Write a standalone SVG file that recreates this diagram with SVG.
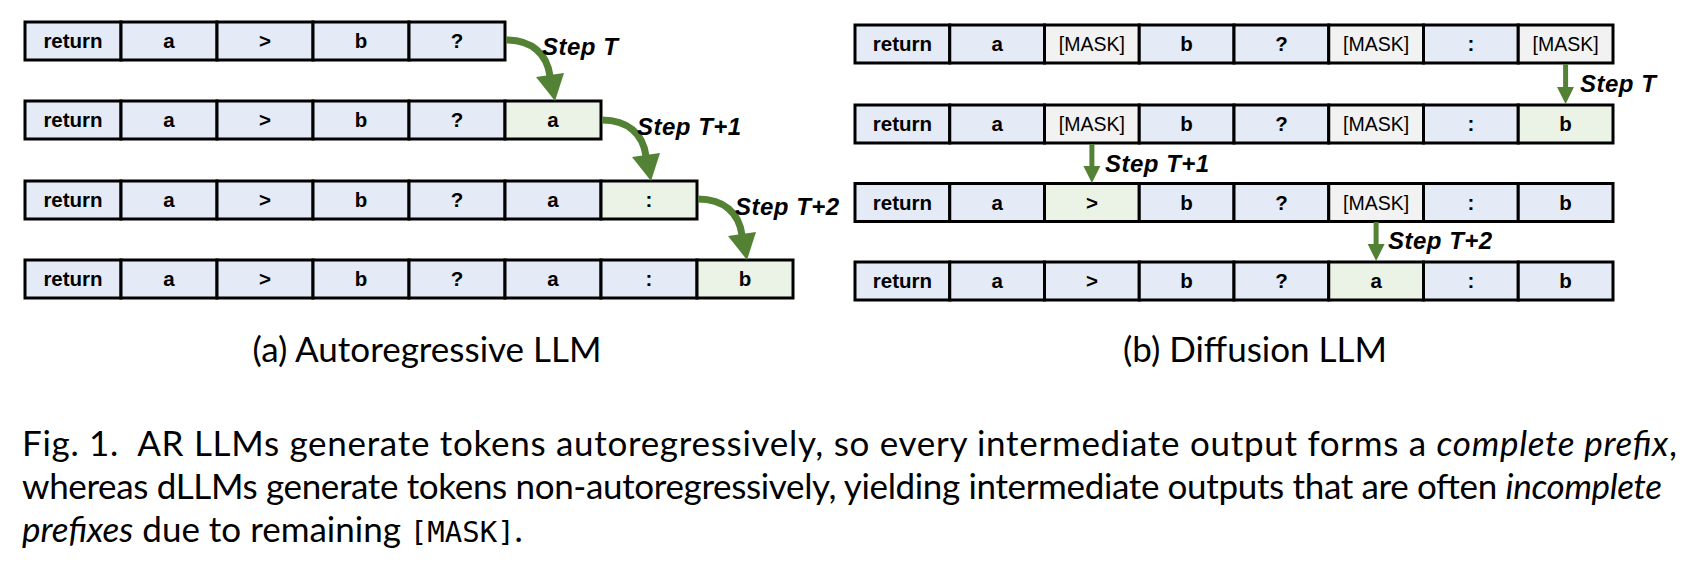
<svg xmlns="http://www.w3.org/2000/svg" width="1686" height="575" viewBox="0 0 1686 575">
<style>
  .c rect { stroke:#000; stroke-width:3; }
  .bl { fill:#E4EBF6; }
  .gr { fill:#EBF3E6; }
  .mk { fill:#F2F2F2; }
  .t { font-family:"Liberation Sans", Arial, sans-serif; font-size:20.5px; font-weight:bold; text-anchor:middle; fill:#000; }
  .m { font-weight:normal; font-size:19.5px; }
  .lab { font-family:"Liberation Sans", Arial, sans-serif; font-size:24px; letter-spacing:0.5px; font-weight:bold; font-style:italic; fill:#000; }
  .arc { fill:none; stroke:#548235; stroke-width:7; }
  .sh { fill:none; stroke:#548235; stroke-width:5; }
  .hd { fill:#548235; }
  .cap { font-family:Lato, "Open Sans", sans-serif; font-size:35px; fill:#000; }
  .body { font-family:Lato, "Open Sans", sans-serif; font-size:35px; fill:#000; white-space:pre; }
  .it { font-style:italic; }
  .mono { font-family:"DejaVu Sans Mono", "Liberation Mono", monospace; font-size:29px; }
</style>

<!-- Left panel: Autoregressive -->
<g id="ar-row1" class="c">
  <g id="ar1-1"><rect class="bl" x="25" y="22" width="96" height="38"/><text class="t" x="73" y="48">return</text></g>
  <g id="ar1-2"><rect class="bl" x="121" y="22" width="96" height="38"/><text class="t" x="169" y="48">a</text></g>
  <g id="ar1-3"><rect class="bl" x="217" y="22" width="96" height="38"/><text class="t" x="265" y="48">&gt;</text></g>
  <g id="ar1-4"><rect class="bl" x="313" y="22" width="96" height="38"/><text class="t" x="361" y="48">b</text></g>
  <g id="ar1-5"><rect class="bl" x="409" y="22" width="96" height="38"/><text class="t" x="457" y="48">?</text></g>
</g>
<g id="ar-row2" class="c">
  <g id="ar2-1"><rect class="bl" x="25" y="101" width="96" height="38"/><text class="t" x="73" y="127">return</text></g>
  <g id="ar2-2"><rect class="bl" x="121" y="101" width="96" height="38"/><text class="t" x="169" y="127">a</text></g>
  <g id="ar2-3"><rect class="bl" x="217" y="101" width="96" height="38"/><text class="t" x="265" y="127">&gt;</text></g>
  <g id="ar2-4"><rect class="bl" x="313" y="101" width="96" height="38"/><text class="t" x="361" y="127">b</text></g>
  <g id="ar2-5"><rect class="bl" x="409" y="101" width="96" height="38"/><text class="t" x="457" y="127">?</text></g>
  <g id="ar2-6"><rect class="gr" x="505" y="101" width="96" height="38"/><text class="t" x="553" y="127">a</text></g>
</g>
<g id="ar-row3" class="c">
  <g id="ar3-1"><rect class="bl" x="25" y="181" width="96" height="38"/><text class="t" x="73" y="207">return</text></g>
  <g id="ar3-2"><rect class="bl" x="121" y="181" width="96" height="38"/><text class="t" x="169" y="207">a</text></g>
  <g id="ar3-3"><rect class="bl" x="217" y="181" width="96" height="38"/><text class="t" x="265" y="207">&gt;</text></g>
  <g id="ar3-4"><rect class="bl" x="313" y="181" width="96" height="38"/><text class="t" x="361" y="207">b</text></g>
  <g id="ar3-5"><rect class="bl" x="409" y="181" width="96" height="38"/><text class="t" x="457" y="207">?</text></g>
  <g id="ar3-6"><rect class="bl" x="505" y="181" width="96" height="38"/><text class="t" x="553" y="207">a</text></g>
  <g id="ar3-7"><rect class="gr" x="601" y="181" width="96" height="38"/><text class="t" x="649" y="207">:</text></g>
</g>
<g id="ar-row4" class="c">
  <g id="ar4-1"><rect class="bl" x="25" y="260" width="96" height="38"/><text class="t" x="73" y="286">return</text></g>
  <g id="ar4-2"><rect class="bl" x="121" y="260" width="96" height="38"/><text class="t" x="169" y="286">a</text></g>
  <g id="ar4-3"><rect class="bl" x="217" y="260" width="96" height="38"/><text class="t" x="265" y="286">&gt;</text></g>
  <g id="ar4-4"><rect class="bl" x="313" y="260" width="96" height="38"/><text class="t" x="361" y="286">b</text></g>
  <g id="ar4-5"><rect class="bl" x="409" y="260" width="96" height="38"/><text class="t" x="457" y="286">?</text></g>
  <g id="ar4-6"><rect class="bl" x="505" y="260" width="96" height="38"/><text class="t" x="553" y="286">a</text></g>
  <g id="ar4-7"><rect class="bl" x="601" y="260" width="96" height="38"/><text class="t" x="649" y="286">:</text></g>
  <g id="ar4-8"><rect class="gr" x="697" y="260" width="96" height="38"/><text class="t" x="745" y="286">b</text></g>
</g>

<!-- Right panel: Diffusion -->
<g id="df-row1" class="c">
  <g id="df1-1"><rect class="bl" x="855" y="25" width="94.75" height="38"/><text class="t" x="902.4" y="51">return</text></g>
  <g id="df1-2"><rect class="bl" x="949.75" y="25" width="94.75" height="38"/><text class="t" x="997.1" y="51">a</text></g>
  <g id="df1-3"><rect class="mk" x="1044.5" y="25" width="94.75" height="38"/><text class="t m" x="1091.9" y="51">[MASK]</text></g>
  <g id="df1-4"><rect class="bl" x="1139.25" y="25" width="94.75" height="38"/><text class="t" x="1186.6" y="51">b</text></g>
  <g id="df1-5"><rect class="bl" x="1234" y="25" width="94.75" height="38"/><text class="t" x="1281.4" y="51">?</text></g>
  <g id="df1-6"><rect class="mk" x="1328.75" y="25" width="94.75" height="38"/><text class="t m" x="1376.1" y="51">[MASK]</text></g>
  <g id="df1-7"><rect class="bl" x="1423.5" y="25" width="94.75" height="38"/><text class="t" x="1470.9" y="51">:</text></g>
  <g id="df1-8"><rect class="mk" x="1518.25" y="25" width="94.75" height="38"/><text class="t m" x="1565.6" y="51">[MASK]</text></g>
</g>
<g id="df-row2" class="c">
  <g id="df2-1"><rect class="bl" x="855" y="105" width="94.75" height="38"/><text class="t" x="902.4" y="131">return</text></g>
  <g id="df2-2"><rect class="bl" x="949.75" y="105" width="94.75" height="38"/><text class="t" x="997.1" y="131">a</text></g>
  <g id="df2-3"><rect class="mk" x="1044.5" y="105" width="94.75" height="38"/><text class="t m" x="1091.9" y="131">[MASK]</text></g>
  <g id="df2-4"><rect class="bl" x="1139.25" y="105" width="94.75" height="38"/><text class="t" x="1186.6" y="131">b</text></g>
  <g id="df2-5"><rect class="bl" x="1234" y="105" width="94.75" height="38"/><text class="t" x="1281.4" y="131">?</text></g>
  <g id="df2-6"><rect class="mk" x="1328.75" y="105" width="94.75" height="38"/><text class="t m" x="1376.1" y="131">[MASK]</text></g>
  <g id="df2-7"><rect class="bl" x="1423.5" y="105" width="94.75" height="38"/><text class="t" x="1470.9" y="131">:</text></g>
  <g id="df2-8"><rect class="gr" x="1518.25" y="105" width="94.75" height="38"/><text class="t" x="1565.6" y="131">b</text></g>
</g>
<g id="df-row3" class="c">
  <g id="df3-1"><rect class="bl" x="855" y="183.5" width="94.75" height="38"/><text class="t" x="902.4" y="209.5">return</text></g>
  <g id="df3-2"><rect class="bl" x="949.75" y="183.5" width="94.75" height="38"/><text class="t" x="997.1" y="209.5">a</text></g>
  <g id="df3-3"><rect class="gr" x="1044.5" y="183.5" width="94.75" height="38"/><text class="t" x="1091.9" y="209.5">&gt;</text></g>
  <g id="df3-4"><rect class="bl" x="1139.25" y="183.5" width="94.75" height="38"/><text class="t" x="1186.6" y="209.5">b</text></g>
  <g id="df3-5"><rect class="bl" x="1234" y="183.5" width="94.75" height="38"/><text class="t" x="1281.4" y="209.5">?</text></g>
  <g id="df3-6"><rect class="mk" x="1328.75" y="183.5" width="94.75" height="38"/><text class="t m" x="1376.1" y="209.5">[MASK]</text></g>
  <g id="df3-7"><rect class="bl" x="1423.5" y="183.5" width="94.75" height="38"/><text class="t" x="1470.9" y="209.5">:</text></g>
  <g id="df3-8"><rect class="bl" x="1518.25" y="183.5" width="94.75" height="38"/><text class="t" x="1565.6" y="209.5">b</text></g>
</g>
<g id="df-row4" class="c">
  <g id="df4-1"><rect class="bl" x="855" y="262" width="94.75" height="38"/><text class="t" x="902.4" y="288">return</text></g>
  <g id="df4-2"><rect class="bl" x="949.75" y="262" width="94.75" height="38"/><text class="t" x="997.1" y="288">a</text></g>
  <g id="df4-3"><rect class="bl" x="1044.5" y="262" width="94.75" height="38"/><text class="t" x="1091.9" y="288">&gt;</text></g>
  <g id="df4-4"><rect class="bl" x="1139.25" y="262" width="94.75" height="38"/><text class="t" x="1186.6" y="288">b</text></g>
  <g id="df4-5"><rect class="bl" x="1234" y="262" width="94.75" height="38"/><text class="t" x="1281.4" y="288">?</text></g>
  <g id="df4-6"><rect class="gr" x="1328.75" y="262" width="94.75" height="38"/><text class="t" x="1376.1" y="288">a</text></g>
  <g id="df4-7"><rect class="bl" x="1423.5" y="262" width="94.75" height="38"/><text class="t" x="1470.9" y="288">:</text></g>
  <g id="df4-8"><rect class="bl" x="1518.25" y="262" width="94.75" height="38"/><text class="t" x="1565.6" y="288">b</text></g>
</g>

<!-- Connectors -->
<g id="connectors">
  <path class="arc" d="M506,40 C532,40 547,54 550,76"/>
  <polygon class="hd" points="536,77 564,73 555,101"/>
  <path class="arc" d="M602,120 C628,120 643,134 646,156"/>
  <polygon class="hd" points="632,157 660,153 651,181"/>
  <path class="arc" d="M698,199 C724,199 739,213 742,235"/>
  <polygon class="hd" points="728,236 756,232 747,260"/>

  <line class="sh" x1="1565.6" y1="64" x2="1565.6" y2="89"/>
  <polygon class="hd" points="1557,87 1574,87 1565.6,104"/>
  <line class="sh" x1="1091.9" y1="144" x2="1091.9" y2="168"/>
  <polygon class="hd" points="1083.4,166 1100.4,166 1091.9,183"/>
  <line class="sh" x1="1376.1" y1="222" x2="1376.1" y2="246"/>
  <polygon class="hd" points="1367.6,244 1384.6,244 1376.1,261"/>
</g>

<g id="step-labels">
  <text class="lab" x="542" y="55">Step T</text>
  <text class="lab" x="637" y="135">Step T+1</text>
  <text class="lab" x="735" y="215">Step T+2</text>
  <text class="lab" x="1580" y="92">Step T</text>
  <text class="lab" x="1105" y="172">Step T+1</text>
  <text class="lab" x="1388" y="249">Step T+2</text>
</g>

<g id="captions">
  <text class="cap" x="427" y="362" text-anchor="middle">(a) Autoregressive LLM</text>
  <text class="cap" x="1255" y="362" text-anchor="middle">(b) Diffusion LLM</text>
  <text class="body" x="22" y="456" textLength="1655" lengthAdjust="spacing">Fig. 1.  AR LLMs generate tokens autoregressively, so every intermediate output forms a <tspan class="it">complete prefix</tspan>,</text>
  <text class="body" x="22" y="499" textLength="1640" lengthAdjust="spacing">whereas dLLMs generate tokens non-autoregressively, yielding intermediate outputs that are often <tspan class="it">incomplete</tspan></text>
  <text class="body" x="22" y="542"><tspan class="it">prefixes</tspan> due to remaining <tspan class="mono">[MASK]</tspan>.</text>
</g>
</svg>
